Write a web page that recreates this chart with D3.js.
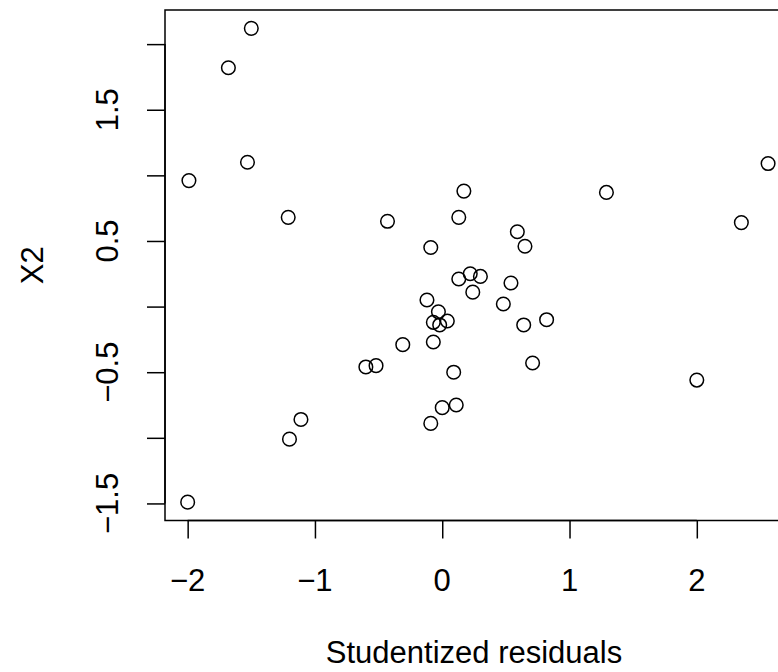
<!DOCTYPE html>
<html>
<head>
<meta charset="utf-8">
<script src="https://cdn.jsdelivr.net/npm/d3@7/dist/d3.min.js"></script>
<style>
  html, body { margin: 0; padding: 0; background: #fff; }
  svg { display: block; }
  text { font-family: "Liberation Sans", Arial, Helvetica, sans-serif; fill: #000; }
</style>
</head>
<body>
<script>
// Data
const residuals = [-1.50,-1.68,-1.53,-1.99,-1.21,-0.43,0.13,0.17,-0.09,2.56,1.29,2.35,0.59,0.65,0.13,0.22,0.30,0.24,0.54,0.48,0.64,0.82,0.71,-0.12,-0.03,-0.07,-0.02,0.04,-0.07,-0.31,-0.60,-0.52,0.09,0.00,0.11,-0.09,-1.11,-1.20,-2.00,2.00];
const x2Values = [2.12,1.82,1.10,0.96,0.68,0.65,0.68,0.88,0.45,1.09,0.87,0.64,0.57,0.46,0.21,0.25,0.23,0.11,0.18,0.02,-0.14,-0.10,-0.43,0.05,-0.04,-0.12,-0.14,-0.11,-0.27,-0.29,-0.46,-0.45,-0.50,-0.77,-0.75,-0.89,-0.86,-1.01,-1.49,-0.56];
const xTicks = [-2, -1, 0, 1, 2];
const xTickLabels = ["\u22122", "\u22121", "0", "1", "2"];
const yTicks = [-1.5, -1, -0.5, 0, 0.5, 1, 1.5, 2];
const yTickLabels = ["\u22121.5", "", "\u22120.5", "", "0.5", "", "1.5", ""];
const xTitle = "Studentized residuals";
const yTitle = "X2";

const W = 778, H = 672;
const FS = 31;
const SW = 1.5;
const plot = { left: 165, right: 791, top: 10, bottom: 520.5 };

const svg = d3.select("body").append("svg").attr("width", W).attr("height", H);

const x = d3.scaleLinear().domain([-2.178, 2.74]).range([plot.left, plot.right]);
const y = d3.scaleLinear().domain([-1.63, 2.26]).range([plot.bottom, plot.top]);

// Box
svg.append("rect")
  .attr("x", plot.left).attr("y", plot.top)
  .attr("width", plot.right - plot.left).attr("height", plot.bottom - plot.top)
  .attr("fill", "none").attr("stroke", "#000").attr("stroke-width", SW);

// X axis
const gx = svg.append("g").attr("transform", `translate(0,${plot.bottom})`)
  .call(d3.axisBottom(x).tickValues(xTicks).tickSize(18).tickFormat(""));
gx.selectAll("path.domain").attr("stroke", "#000").attr("stroke-width", SW)
  .attr("d", `M${x(xTicks[0])},0H${x(xTicks[xTicks.length-1])}`);
gx.selectAll(".tick line").attr("stroke", "#000").attr("stroke-width", SW);

svg.append("g").selectAll("text").data(xTicks).join("text")
  .attr("x", d => x(d)).attr("y", 591)
  .attr("text-anchor", "middle").attr("font-size", FS)
  .text((d, i) => xTickLabels[i]);

// Y axis
const gy = svg.append("g").attr("transform", `translate(${plot.left},0)`)
  .call(d3.axisLeft(y).tickValues(yTicks).tickSize(18).tickFormat(""));
gy.selectAll("path.domain").attr("stroke", "#000").attr("stroke-width", SW)
  .attr("d", `M0,${y(yTicks[0])}V${y(yTicks[yTicks.length-1])}`);
gy.selectAll(".tick line").attr("stroke", "#000").attr("stroke-width", SW);

svg.append("g").selectAll("text").data(yTicks).join("text")
  .attr("transform", d => `translate(118,${y(d)}) rotate(-90)`)
  .attr("text-anchor", "middle").attr("font-size", FS)
  .text((d, i) => yTickLabels[i]);

// Titles
svg.append("text")
  .attr("x", 474).attr("y", 663)
  .attr("text-anchor", "middle").attr("font-size", FS)
  .text(xTitle);
svg.append("text")
  .attr("transform", `translate(43,${(plot.top + plot.bottom) / 2}) rotate(-90)`)
  .attr("text-anchor", "middle").attr("font-size", FS)
  .text(yTitle);

// Points
svg.append("g").selectAll("circle").data(residuals).join("circle")
  .attr("cx", d => x(d))
  .attr("cy", (d, i) => y(x2Values[i]))
  .attr("r", 6.8)
  .attr("fill", "none").attr("stroke", "#000").attr("stroke-width", SW);
</script>
</body>
</html>
